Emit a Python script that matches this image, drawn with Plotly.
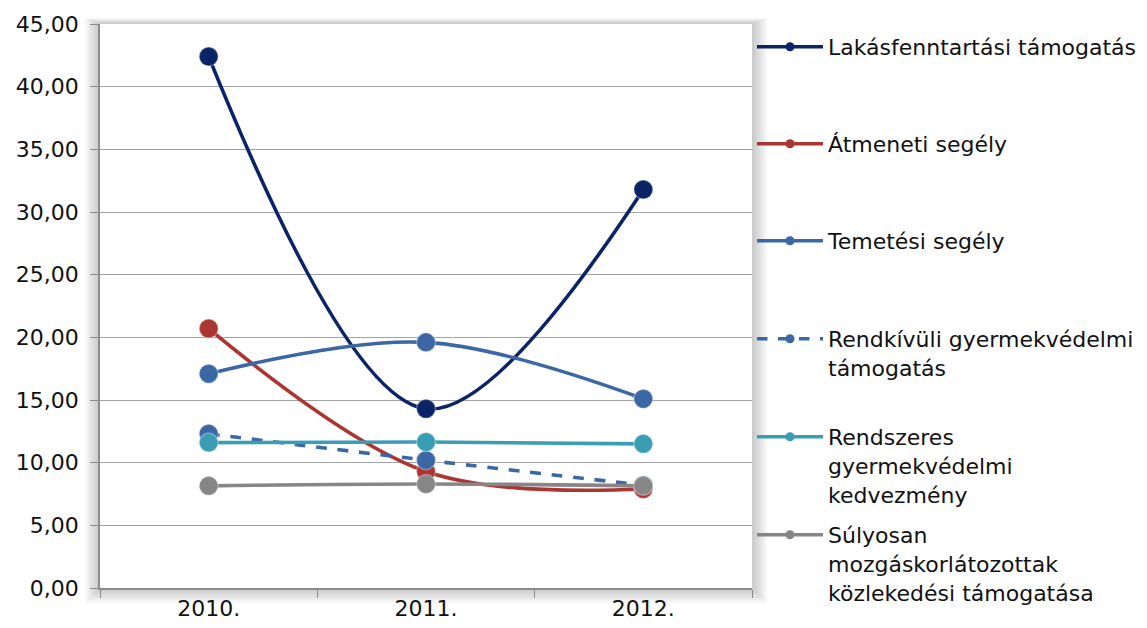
import plotly.graph_objects as go

years = ["2010.", "2011.", "2012."]

lakas = [42.4, 14.3, 31.8]
atmeneti = [20.7, 9.3, 7.9]
temetesi = [17.1, 19.6, 15.1]
rendkivuli = [12.3, 10.2, 8.2]
rendszeres = [11.6, 11.65, 11.5]
sulyosan = [8.15, 8.3, 8.15]

names = [
    "Lakásfenntartási támogatás",
    "Átmeneti segély",
    "Temetési segély",
    "Rendkívüli gyermekvédelmi<br>támogatás",
    "Rendszeres<br>gyermekvédelmi<br>kedvezmény",
    "Súlyosan<br>mozgáskorlátozottak<br>közlekedési támogatása",
]
series = [lakas, atmeneti, temetesi, rendkivuli, rendszeres, sulyosan]
colors = ["#0b2467", "#ab3530", "#3b67a5", "#3b67a5", "#3a9db3", "#868686"]
dashes = ["solid", "solid", "solid", "dash", "solid", "solid"]

FONT = "DejaVu Sans"
FS = 22

# page has an 8px body margin; plot area on screen: x 100..752, y 24..588
OFF = 8
W = 652.0
H = 564.0
legend_y = [48, 145, 242, 340, 438, 536]

fig = go.Figure()
for i, (nm, vals, col, dsh) in enumerate(zip(names, series, colors, dashes)):
    fig.add_trace(go.Scatter(
        x=years, y=vals, name=nm, mode="lines+markers", showlegend=False,
        line=dict(color=col, width=3.6, dash=dsh, shape="spline"),
        marker=dict(size=19, color=col, line=dict(width=1.5, color="rgba(255,255,255,0.3)")),
    ))

# legend entries (small marker like the original key)
for i, (nm, col, dsh) in enumerate(zip(names, colors, dashes)):
    lg = "legend" if i == 0 else "legend%d" % (i + 1)
    fig.add_trace(go.Scatter(
        x=[None], y=[None], name=nm, mode="lines+markers", legend=lg,
        line=dict(color=col, width=3.5, dash=dsh),
        marker=dict(size=9, color=col),
    ))

# soft shadow around the plot area
for k in range(6):
    d = (6 - k) * 2.5
    fig.add_shape(type="rect", xref="paper", yref="paper", layer="below",
                  x0=-d / W, x1=1 + d / W, y0=-d / H, y1=1 + d / H * 0.4,
                  line=dict(width=0), fillcolor="rgba(0,0,0,0.035)")
fig.add_shape(type="rect", xref="paper", yref="paper", layer="below",
              x0=0, x1=1, y0=0, y1=1, line=dict(width=0), fillcolor="white")

layout_legends = {}
for i, py in enumerate(legend_y):
    key = "legend" if i == 0 else "legend%d" % (i + 1)
    layout_legends[key] = dict(
        x=1.0, xanchor="left", y=(588 - py + 22) / H, yanchor="top",
        valign="top", bgcolor="rgba(0,0,0,0)", itemwidth=66,
        font=dict(family=FONT, size=FS, color="#111111"),
        tracegroupgap=0,
    )

fig.update_layout(
    width=1147, height=628,
    margin=dict(l=100 - OFF, r=1147 - 752 + OFF, t=24 - OFF, b=628 - 588 + OFF, autoexpand=False),
    paper_bgcolor="white", plot_bgcolor="white",
    separators=", ",
    font=dict(family=FONT, size=FS, color="#111111"),
    showlegend=True,
    **layout_legends,
)
fig.update_xaxes(
    type="category", range=[-0.5, 2.5], showgrid=False, automargin=False,
    showline=True, linecolor="#8c8c8c", linewidth=1.5,
    ticks="outside", tickson="boundaries", ticklen=8, tickcolor="#8c8c8c",
    tickfont=dict(family=FONT, size=FS, color="#111111"),
)
fig.update_yaxes(
    range=[0, 45], dtick=5, tickformat=".2f", automargin=False,
    showgrid=True, gridcolor="#a3a3a3", gridwidth=1.2,
    showline=True, linecolor="#8c8c8c", linewidth=1.5,
    ticks="outside", ticklen=8, tickcolor="#8c8c8c", ticklabelstandoff=7,
    tickfont=dict(family=FONT, size=FS, color="#111111"),
    zeroline=False,
)

fig.write_html("out.html")
